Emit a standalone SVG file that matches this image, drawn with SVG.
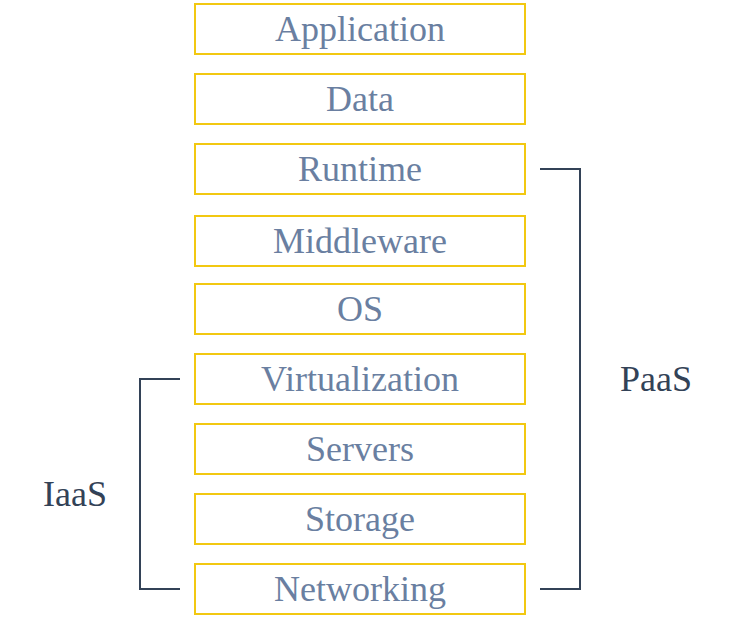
<svg xmlns="http://www.w3.org/2000/svg" width="749" height="634" viewBox="0 0 749 634">
<style>
.box{fill:#fff;stroke:#f2c811;stroke-width:2}
.t{font-size:36px;fill:#6a7fa1;text-anchor:middle}
.lbl{font-size:36px;fill:#334257;text-anchor:middle}
.br{fill:none;stroke:#334257;stroke-width:2}
</style>
<rect width="749" height="634" fill="#fff"/>
<g font-family="Liberation Serif, Times New Roman, DejaVu Serif, serif">
<g id="application"><rect class="box" x="195" y="4" width="330" height="50"/><text class="t" x="360" y="41">Application</text></g>
<g id="data"><rect class="box" x="195" y="74" width="330" height="50"/><text class="t" x="360" y="111">Data</text></g>
<g id="runtime"><rect class="box" x="195" y="144" width="330" height="50"/><text class="t" x="360" y="181">Runtime</text></g>
<g id="middleware"><rect class="box" x="195" y="216" width="330" height="50"/><text class="t" x="360" y="253">Middleware</text></g>
<g id="os"><rect class="box" x="195" y="284" width="330" height="50"/><text class="t" x="360" y="321">OS</text></g>
<g id="virtualization"><rect class="box" x="195" y="354" width="330" height="50"/><text class="t" x="360" y="391">Virtualization</text></g>
<g id="servers"><rect class="box" x="195" y="424" width="330" height="50"/><text class="t" x="360" y="461">Servers</text></g>
<g id="storage"><rect class="box" x="195" y="494" width="330" height="50"/><text class="t" x="360" y="531">Storage</text></g>
<g id="networking"><rect class="box" x="195" y="564" width="330" height="50"/><text class="t" x="360" y="601">Networking</text></g>
<g id="connectors">
<path class="br" d="M180 379 H140 V589 H180"/>
<path class="br" d="M540 169 H580 V589 H540"/>
</g>
<g id="iaas"><text class="lbl" x="75" y="506">IaaS</text></g>
<g id="paas"><text class="lbl" x="656" y="391">PaaS</text></g>
</g>
</svg>
